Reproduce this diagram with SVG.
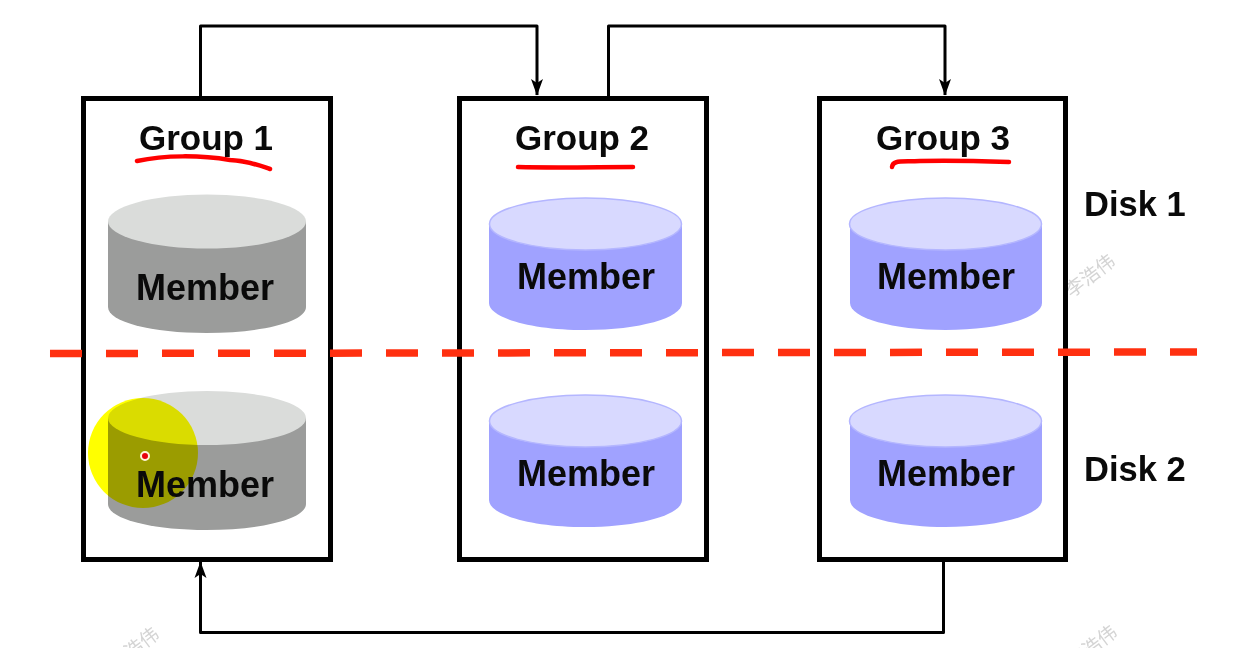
<svg xmlns="http://www.w3.org/2000/svg" width="1233" height="648" viewBox="0 0 1233 648">
<style>
text{font-family:"Liberation Sans",Arial,"Noto Sans CJK SC",sans-serif;font-weight:700;fill:#0a0a0a}
.box{fill:#fff;stroke:#000;stroke-width:5}
.g{font-size:35px;text-anchor:middle}
.m{font-size:36px;text-anchor:middle}
.d{font-size:34.500px}
.w{font-weight:400;font-size:19px;fill:#d4d4d4;text-anchor:middle}
.conn{fill:none;stroke:#000;stroke-width:3;stroke-linejoin:round}
.ink{fill:none;stroke:#f00;stroke-width:4.500;stroke-linecap:round;stroke-linejoin:round}
.gs{fill:#9b9c9b}.gt{fill:#dadcda}
.bs{fill:#a0a2ff}.bt{fill:#d8d9ff;stroke:#b4b6ff;stroke-width:1.500}
</style>
<defs>
<marker id="a" markerWidth="17" markerHeight="13" refX="16" refY="6.500" orient="auto" markerUnits="userSpaceOnUse"><path d="M0 .5L16.500 6.500L0 12.500L4 6.500Z" fill="#000"/></marker>
</defs>
<rect width="1233" height="648" fill="#fff"/>
<g id="watermarks">
<text class="w" transform="translate(1094 281) rotate(-37)">李浩伟</text>
<text class="w" transform="translate(1096 652) rotate(-37)">李浩伟</text>
<text class="w" transform="translate(138 654) rotate(-37)">李浩伟</text>
<text class="w" transform="translate(120 284) rotate(-37)">李浩伟</text>
</g>
<g id="connectors">
<path class="conn" d="M200.500 97V26H537V95" marker-end="url(#a)"/>
<path class="conn" d="M608.500 97V26H945V95" marker-end="url(#a)"/>
<path class="conn" d="M943.500 559V632.500H200.500V562" marker-end="url(#a)"/>
</g>
<g id="group1">
<rect class="box" x="83.500" y="98.500" width="247" height="461"/>
<text class="g" x="206" y="150">Group 1</text>
<path class="ink" d="M137 161C165 155 200 155 230 160C248 161 258 165 270 169"/>
</g>
<g id="group2">
<rect class="box" x="459.500" y="98.500" width="247" height="461"/>
<text class="g" x="582" y="150">Group 2</text>
<path class="ink" d="M518 167C555 168 600 167 633 167"/>
</g>
<g id="group3">
<rect class="box" x="819.500" y="98.500" width="246" height="461"/>
<text class="g" x="943" y="150">Group 3</text>
<path class="ink" d="M892 167C893 160 900 162 920 161C950 160 980 161 1009 162"/>
</g>
<g id="member-1-1">
<path class="gs" d="M108 221V307C108 322 152 333 206.500 333S306 322 306 307V221Z"/>
<ellipse class="gt" cx="207" cy="221.500" rx="99" ry="27"/>
<text class="m" x="205" y="300">Member</text>
</g>
<g id="member-1-2">
<path class="gs" d="M108 418V504C108 519 152 530 206.500 530S306 519 306 504V418Z"/>
<ellipse class="gt" cx="207" cy="418" rx="99" ry="27"/>
<circle cx="143" cy="453" r="55" fill="#ff0" style="mix-blend-mode:multiply"/>
<text class="m" x="205" y="497">Member</text>
<circle cx="145" cy="456" r="4" fill="#e8000c" stroke="#fff4d8" stroke-width="2"/>
</g>
<g id="member-2-1">
<path class="bs" d="M489 224V303C489 318 532 330 585.500 330S682 318 682 303V224Z"/>
<ellipse class="bt" cx="585.500" cy="224" rx="96" ry="26"/>
<text class="m" x="586" y="289">Member</text>
</g>
<g id="member-2-2">
<path class="bs" d="M489 421V500C489 515 532 527 585.500 527S682 515 682 500V421Z"/>
<ellipse class="bt" cx="585.500" cy="421" rx="96" ry="26"/>
<text class="m" x="586" y="486">Member</text>
</g>
<g id="member-3-1">
<path class="bs" d="M850 224V303C850 318 893 330 945.500 330S1042 318 1042 303V224Z"/>
<ellipse class="bt" cx="945.500" cy="224" rx="96" ry="26"/>
<text class="m" x="946" y="289">Member</text>
</g>
<g id="member-3-2">
<path class="bs" d="M850 421V500C850 515 893 527 945.500 527S1042 515 1042 500V421Z"/>
<ellipse class="bt" cx="945.500" cy="421" rx="96" ry="26"/>
<text class="m" x="946" y="486">Member</text>
</g>
<g id="disk-labels">
<text class="d" x="1084" y="216">Disk 1</text>
<text class="d" x="1084" y="481">Disk 2</text>
</g>
<path id="divider" d="M50 353.500L1197 352" fill="none" stroke="#ff3010" stroke-width="7.500" stroke-dasharray="32 24"/>
</svg>
